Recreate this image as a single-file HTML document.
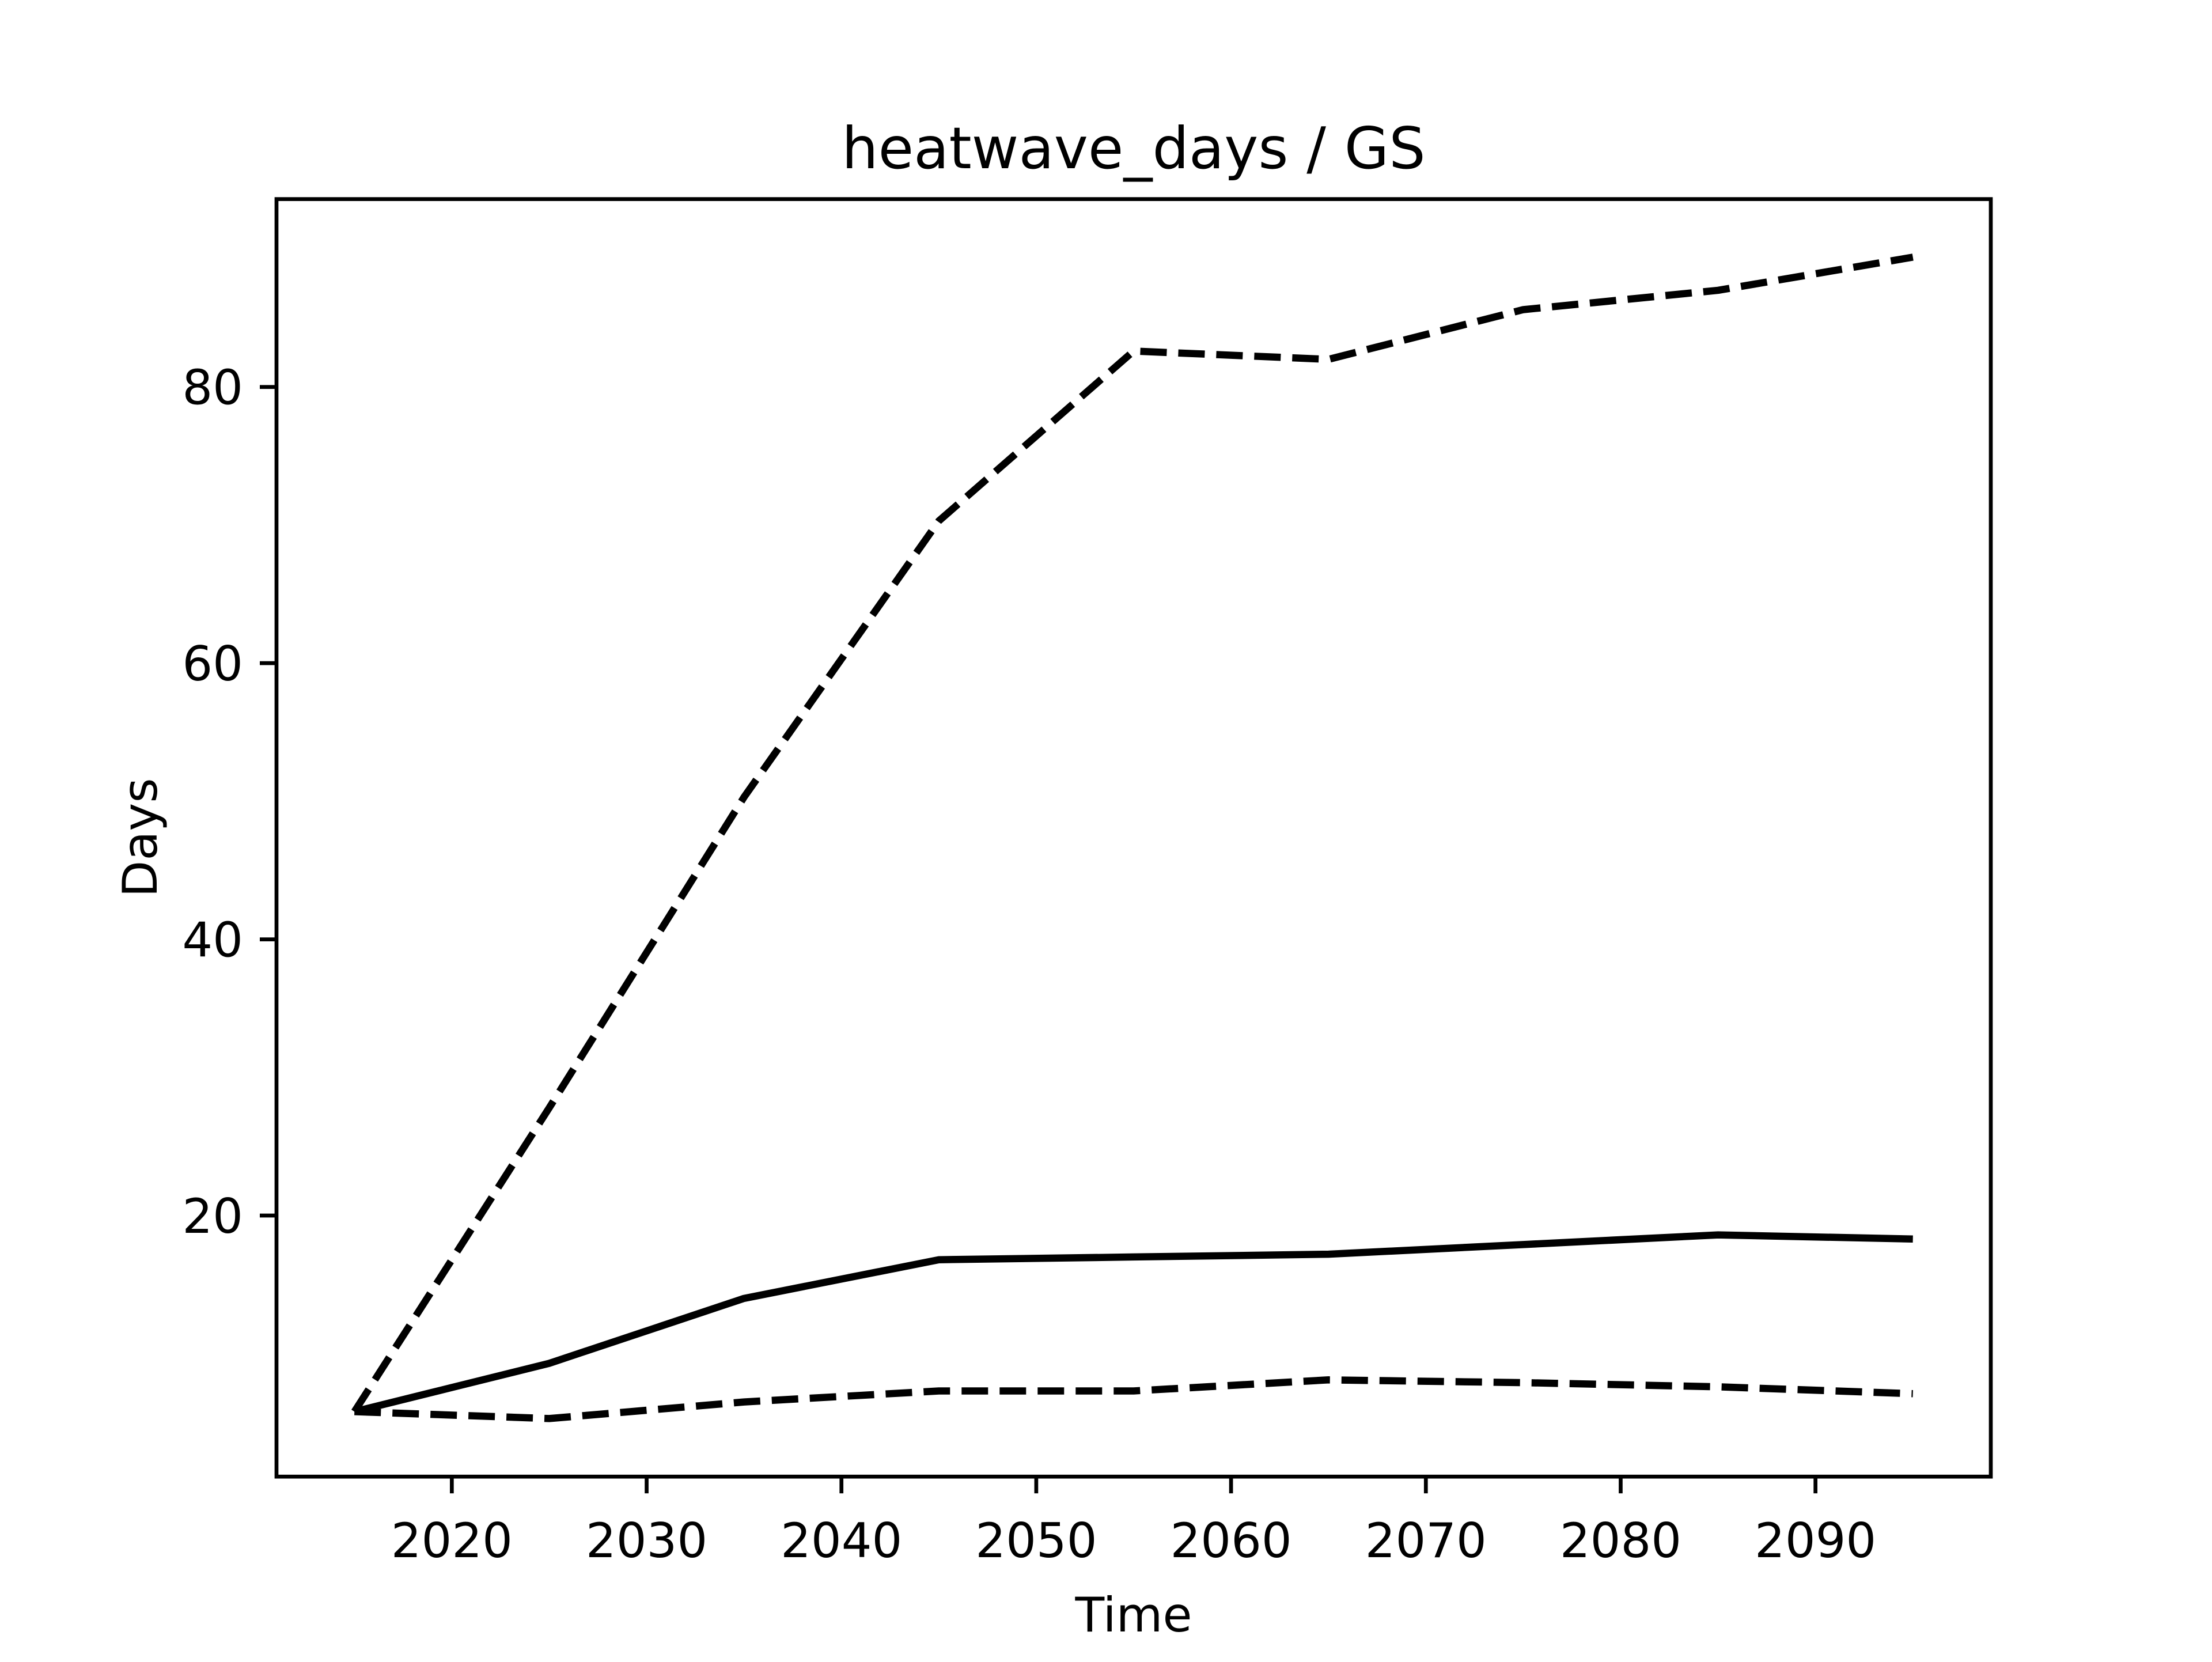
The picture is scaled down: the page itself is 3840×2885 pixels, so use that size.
<!DOCTYPE html>
<html><head><meta charset="utf-8"><style>
html,body{margin:0;padding:0;background:#fff}
svg text{font-family:"DejaVu Sans","Liberation Sans",sans-serif;fill:#000}
</style></head><body>
<svg id="chart" width="3840" height="2880" viewBox="0 0 3840 2880" xmlns="http://www.w3.org/2000/svg">
<rect width="3840" height="2880" fill="#fff"/>
<text x="1968" y="292" font-size="100" text-anchor="middle">heatwave_days / GS</text>
<g id="plot"></g>
<rect x="480" y="345.6" width="2976" height="2217.6" fill="none" stroke="#000" stroke-width="6.7"/>
<text x="1968" y="2832" font-size="83" text-anchor="middle">Time</text>
<text transform="translate(272,1454) rotate(-90)" font-size="83" text-anchor="middle">Days</text>
</svg>
<script>
const years=[2015,2025,2035,2045,2055,2065,2075,2085,2095];
const meanDays=[5.8,9.3,14.0,16.8,17.0,17.2,17.9,18.6,18.3];
const upperDays=[5.8,27.8,50.3,70.3,82.6,82.0,85.6,87.0,89.4];
const lowerDays=[5.8,5.3,6.5,7.3,7.3,8.1,7.9,7.6,7.1];
const xTicks=[2020,2030,2040,2050,2060,2070,2080,2090];
const yTicks=[20,40,60,80];

const L=480,R=3456,T=345.6,B=2563.2;
const xmin0=Math.min(...years),xmax0=Math.max(...years);
const xm=(xmax0-xmin0)*0.05,xmin=xmin0-xm,xmax=xmax0+xm;
const all=meanDays.concat(upperDays,lowerDays);
const ymin0=Math.min(...all),ymax0=Math.max(...all);
const ym=(ymax0-ymin0)*0.05,ymin=ymin0-ym,ymax=ymax0+ym;
const X=v=>L+(v-xmin)/(xmax-xmin)*(R-L);
const Y=v=>B-(v-ymin)/(ymax-ymin)*(B-T);
const NS='http://www.w3.org/2000/svg';
const g=document.getElementById('plot');
function mk(tag,attrs){const e=document.createElementNS(NS,tag);for(const k in attrs)e.setAttribute(k,attrs[k]);g.appendChild(e);return e;}
xTicks.forEach(t=>{
  const l=mk('line',{x1:X(t),x2:X(t),y1:B,y2:B+29,stroke:'#000','stroke-width':6.7});
  
  
  const tx=mk('text',{x:X(t),y:B+140,'font-size':83,'text-anchor':'middle'});
  tx.textContent=t;
  
  
});
yTicks.forEach(t=>{
  const l=mk('line',{x1:L-29,x2:L,y1:Y(t),y2:Y(t),stroke:'#000','stroke-width':6.7});
  
  
  const tx=mk('text',{x:L-58,y:Y(t)+30,'font-size':83,'text-anchor':'end'});
  tx.textContent=t;
  
  
});
function line(vals,dash,name){
  const p=mk('polyline',{points:years.map((y,i)=>X(y)+','+Y(vals[i])).join(' '),fill:'none',stroke:'#000','stroke-width':12.5,'stroke-linejoin':'round'});
  if(dash)p.setAttribute('stroke-dasharray','46 20');
  
  
}
line(meanDays,false,'mean-line');
line(upperDays,true,'upper-bound-line');
line(lowerDays,true,'lower-bound-line');
</script>
</body></html>
